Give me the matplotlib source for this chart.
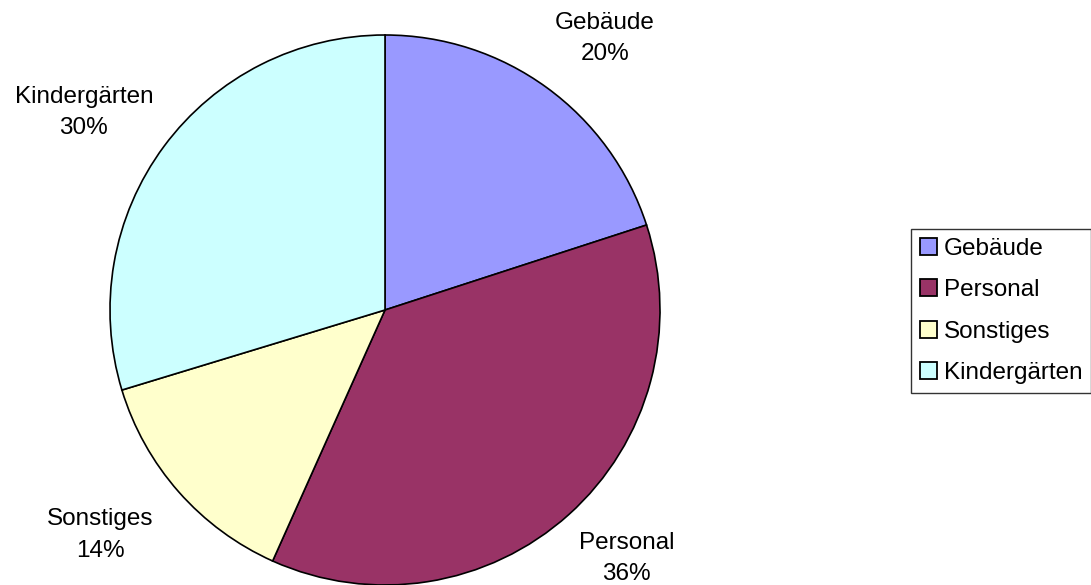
import matplotlib.pyplot as plt
from matplotlib.patches import Patch
import numpy as np

plt.rcParams['font.family'] = ['Liberation Sans', 'DejaVu Sans']

kategorien = ['Gebäude', 'Personal', 'Sonstiges', 'Kindergärten']
# Sektorgrößen, Beschriftung wie im Original
anteile = [20.0, 36.7, 13.6, 29.7]
prozent_text = [20, 36, 14, 30]
farben = ['#9999FF', '#993366', '#FFFFCC', '#CCFFFF']

# Beschriftungspositionen (Radius, Winkel in Grad) wie im Original
label_pos = [(1.27, 51), (1.26, -45.8), (1.32, -141.7), (1.31, 146.7)]

fig = plt.figure(figsize=(10.91, 5.85), dpi=100)
ax = fig.add_axes([110 / 1091, 0 / 585, 550 / 1091, 550 / 585])
ax.pie(anteile, colors=farben, startangle=90, counterclock=False,
       wedgeprops=dict(edgecolor='black', linewidth=1.2))
ax.set_xlim(-1, 1)
ax.set_ylim(-1, 1)
ax.set_aspect('equal')
ax.axis('off')

for name, wert, (r, w) in zip(kategorien, prozent_text, label_pos):
    x = r * np.cos(np.radians(w))
    y = r * np.sin(np.radians(w))
    ax.text(x, y, f'{name}\n{wert}%', ha='center', va='center',
            fontsize=17.5, linespacing=1.55, clip_on=False)

handles = [Patch(facecolor=f, edgecolor='black', linewidth=1.3) for f in farben]
leg = fig.legend(handles, kategorien, loc='center left',
                 bbox_to_anchor=(911 / 1091, 1 - 311 / 585),
                 fontsize=17.5, frameon=True, fancybox=False,
                 handlelength=0.7, handleheight=0.7, handletextpad=0.3,
                 labelspacing=0.8, borderpad=0.35, borderaxespad=0)
leg.get_frame().set_edgecolor('black')
leg.get_frame().set_linewidth(1.0)

fig.savefig('out.png', dpi=100)
